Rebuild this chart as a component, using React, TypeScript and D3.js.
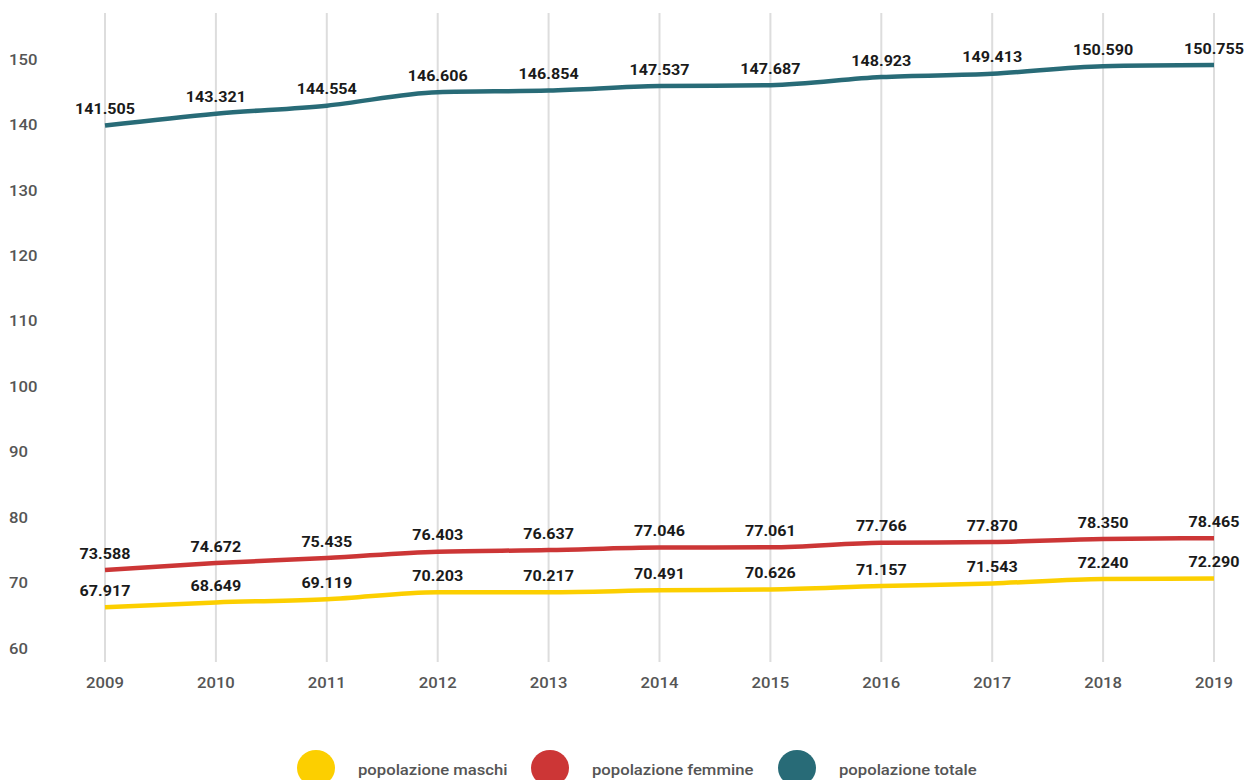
import React from "react";
import * as d3 from "d3";

const years = [2009, 2010, 2011, 2012, 2013, 2014, 2015, 2016, 2017, 2018, 2019];
const maschi = [67.917, 68.649, 69.119, 70.203, 70.217, 70.491, 70.626, 71.157, 71.543, 72.24, 72.29];
const femmine = [73.588, 74.672, 75.435, 76.403, 76.637, 77.046, 77.061, 77.766, 77.87, 78.35, 78.465];
const totale = [141.505, 143.321, 144.554, 146.606, 146.854, 147.537, 147.687, 148.923, 149.413, 150.59, 150.755];
const yTicks = [60, 70, 80, 90, 100, 110, 120, 130, 140, 150];
const seriesNames = ["popolazione maschi", "popolazione femmine", "popolazione totale"];
const seriesColors = ["#fccf00", "#cc3636", "#286b77"];

const W = 1247;
const H = 780;
const SX = 1.15;

export default function App() {
  const x = d3.scalePoint<number>().domain(years).range([105, 1214]);
  const y = d3.scaleLinear().domain([60, 150]).range([659, 70]);
  const series = [maschi, femmine, totale];
  const line = d3
    .line<number>()
    .x((_, i) => x(years[i]) as number)
    .y((d) => y(d))
    .curve(d3.curveMonotoneX);
  const fmt = (v: number) => v.toFixed(3);
  const font = "Roboto, 'Noto Sans', sans-serif";
  const legendX = [316, 550, 797];
  const tr = (px: number, py: number) => `translate(${px},${py}) scale(${SX},1)`;

  return (
    <svg
      width={W}
      height={H}
      style={{ position: "absolute", left: 0, top: 0, background: "#fff" }}
      fontFamily={font}
    >
      {years.map((yr) => (
        <line
          key={"g" + yr}
          x1={x(yr)}
          x2={x(yr)}
          y1={13}
          y2={662}
          stroke="#dddddd"
          strokeWidth={2}
        />
      ))}
      {yTicks.map((t) => (
        <text
          key={"yt" + t}
          transform={tr(9, y(t) - 10)}
          dominantBaseline="central"
          fontSize={14.5}
          fontWeight={500}
          fill="#555"
        >
          {t}
        </text>
      ))}
      {years.map((yr) => (
        <text
          key={"xt" + yr}
          transform={tr(x(yr) as number, 683)}
          textAnchor="middle"
          dominantBaseline="central"
          fontSize={14.5}
          fontWeight={500}
          fill="#555"
        >
          {yr}
        </text>
      ))}
      {series.map((s, si) => (
        <path
          key={"l" + si}
          d={line(s) || ""}
          fill="none"
          stroke={seriesColors[si]}
          strokeWidth={4.5}
        />
      ))}
      {series.map((s, si) =>
        s.map((v, i) => (
          <text
            key={"v" + si + "-" + i}
            transform={tr(x(years[i]) as number, y(v) - 16)}
            textAnchor="middle"
            dominantBaseline="central"
            fontSize={14}
            fontWeight={700}
            fill="#1a1a1a"
          >
            {fmt(v)}
          </text>
        ))
      )}
      {seriesNames.map((n, i) => (
        <g key={"lg" + i}>
          <ellipse cx={legendX[i]} cy={768} rx={19} ry={18} fill={seriesColors[i]} />
          <text
            transform={tr(legendX[i] + 42, 770)}
            dominantBaseline="central"
            fontSize={14.5}
            fontWeight={500}
            fill="#555"
          >
            {n}
          </text>
        </g>
      ))}
    </svg>
  );
}
